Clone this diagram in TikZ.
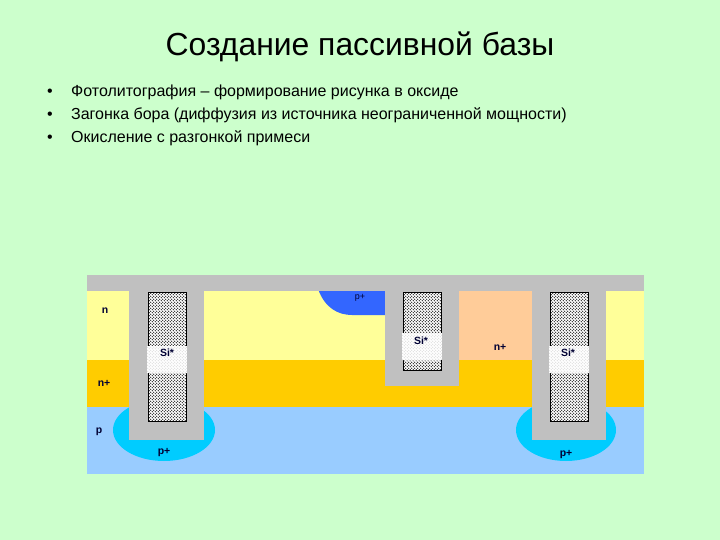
\documentclass[tikz,border=0pt]{standalone}
\usepackage{fontspec}
\setmainfont{Liberation Sans}
\usetikzlibrary{patterns}
\pgfdeclarepatternformonly{polydots}{\pgfqpoint{-0.5bp}{-0.5bp}}{\pgfqpoint{3.5bp}{3.5bp}}{\pgfqpoint{3bp}{3bp}}{
  \pgfpathcircle{\pgfqpoint{0.75bp}{0.75bp}}{0.55bp}
  \pgfpathcircle{\pgfqpoint{2.25bp}{2.25bp}}{0.55bp}
  \pgfusepath{fill}}
\definecolor{slide}{HTML}{CCFFCC}
\definecolor{layern}{HTML}{FFFF99}
\definecolor{layernplus}{HTML}{FFCC00}
\definecolor{layerp}{HTML}{99CCFF}
\definecolor{oxide}{HTML}{C0C0C0}
\definecolor{emitter}{HTML}{FFCC99}
\definecolor{pocket}{HTML}{00CCFF}
\definecolor{base}{HTML}{3366FF}
\begin{document}
\begin{tikzpicture}[x=1bp,y=-1bp,
  oxidefill/.style={fill=oxide,draw=none},
  poly/.style={draw=black,line width=0.7bp,preaction={fill=white},pattern=polydots,pattern color=black},
  polygap/.style={fill=white,draw=none},
  polygapdots/.style={pattern=polydots,pattern color=black!15,draw=none},
  doping/.style={font=\fontsize{10.5}{12}\selectfont\bfseries,text=black!80!blue,inner sep=0pt},
  bullet/.style={font=\fontsize{16.05}{18}\selectfont,inner sep=0pt,anchor=base west}]
\useasboundingbox (0,0) rectangle (720,540);
\fill[slide] (0,0) rectangle (720,540);
% title and list
\node[font=\fontsize{32}{38}\selectfont,inner sep=0pt] (title) at (360,47) {Создание пассивной базы};
\node[bullet] (dota) at (47,97) {•};
\node[bullet] (dotb) at (47,120) {•};
\node[bullet] (dotc) at (47,143) {•};
\node[bullet] (linea) at (71,97) {Фотолитография -- формирование рисунка в оксиде};
\node[bullet] (lineb) at (71,120) {Загонка бора (диффузия из источника неограниченной мощности)};
\node[bullet] (linec) at (71,143) {Окисление с разгонкой примеси};
% substrate
\fill[layerp] (87,407) rectangle (644,474);
\fill[pocket] (164,430) ellipse (51 and 31);
\fill[pocket] (566,430) ellipse (50 and 31);
\fill[layernplus] (87,360) rectangle (644,407);
\fill[layern] (87,291) rectangle (644,360);
\fill[emitter] (459,291) rectangle (532,360);
\fill[base] (318,289) .. controls (325,308) and (338,315) .. (352,315) -- (386,315) -- (386,289) -- cycle;
% oxide
\fill[oxidefill] (87,275) rectangle (644,291);
\fill[oxidefill] (129,275) rectangle (204,440);
\fill[oxidefill] (385,275) rectangle (459,386);
\fill[oxidefill] (532,275) rectangle (606,440);
% polysilicon
\draw[poly] (148,292) rectangle (186,421);
\draw[poly] (403,292) rectangle (441,370);
\draw[poly] (550,292) rectangle (588,421);
\fill[polygap] (147,346) rectangle (187,373);
\fill[polygap] (402,333) rectangle (442,360);
\fill[polygap] (549,346) rectangle (589,373);
\fill[polygapdots] (147,346) rectangle (187,373);
\fill[polygapdots] (402,333) rectangle (442,360);
\fill[polygapdots] (549,346) rectangle (589,373);
% labels
\node[doping] (nlabel) at (105,311) {n};
\node[doping] (nplusa) at (104,383) {n+};
\node[doping] (plabel) at (99,432) {p};
\node[doping] (pplusa) at (164,453) {p+};
\node[doping,font=\fontsize{9}{11}\selectfont] (pplusb) at (360,298) {p+};
\node[doping] (pplusc) at (566,455) {p+};
\node[doping] (nplusb) at (500,347) {n+};
\node[doping] (sia) at (167,353) {Si*};
\node[doping] (sib) at (421,341) {Si*};
\node[doping] (sic) at (568,353) {Si*};
\end{tikzpicture}
\end{document}
